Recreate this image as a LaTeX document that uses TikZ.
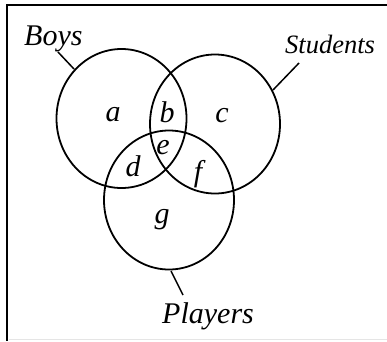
\documentclass[tikz,border=0pt]{standalone}
\usepackage{fontspec}
\setmainfont{Liberation Serif}
\begin{document}
\begin{tikzpicture}[x=1pt,y=-1pt,
  setline/.style={line width=1.8pt},
  lbl/.style={font=\fontsize{30}{30}\selectfont\itshape, inner sep=0pt},
  big/.style={font=\fontsize{30}{30}\selectfont\itshape, inner sep=0pt, anchor=base west},
  sml/.style={font=\fontsize{26.5}{26.5}\selectfont\itshape, inner sep=0pt, anchor=base west}]
\useasboundingbox (0,0) rectangle (387,341);
% frame
\draw[line width=2.4pt] (387,5) -- (7,5) -- (7,341);
\draw[black!10, line width=0.8pt] (9,339.5) -- (387,339.5);
% sets
\draw[setline] (121.5,118.5) ellipse [x radius=65, y radius=69.5];
\draw[setline] (215,124) ellipse [x radius=65, y radius=69.5];
\draw[setline] (169,200) ellipse [x radius=65, y radius=69.5];
% labels
\node[big] (boys) at (24,45) {Boys};
\node[sml] (stud) at (285,53) {Students};
\node[big] (play) at (162,323) {Players};
\coordinate (boysEnd) at (74,69);
\coordinate (boysTip) at (58,52);
\coordinate (studEnd) at (273,90);
\coordinate (studTip) at (299,63);
\coordinate (playEnd) at (171,271);
\coordinate (playTip) at (183,295);
\draw[line width=1.5pt] (boysTip) -- (boysEnd);
\draw[line width=1.5pt] (studTip) -- (studEnd);
\draw[line width=1.5pt] (playEnd) -- (playTip);
% regions
\node[lbl, anchor=base] (a) at (113,121) {a};
\node[lbl, anchor=base] (b) at (167,122) {b};
\node[lbl, anchor=base] (c) at (222,122) {c};
\node[lbl, anchor=base] (e) at (163,154) {e};
\node[lbl, anchor=base] (d) at (133,176) {d};
\node[lbl, anchor=base] (f) at (198,181) {f};
\node[lbl, anchor=base] (g) at (162,223) {g};
\end{tikzpicture}
\end{document}
